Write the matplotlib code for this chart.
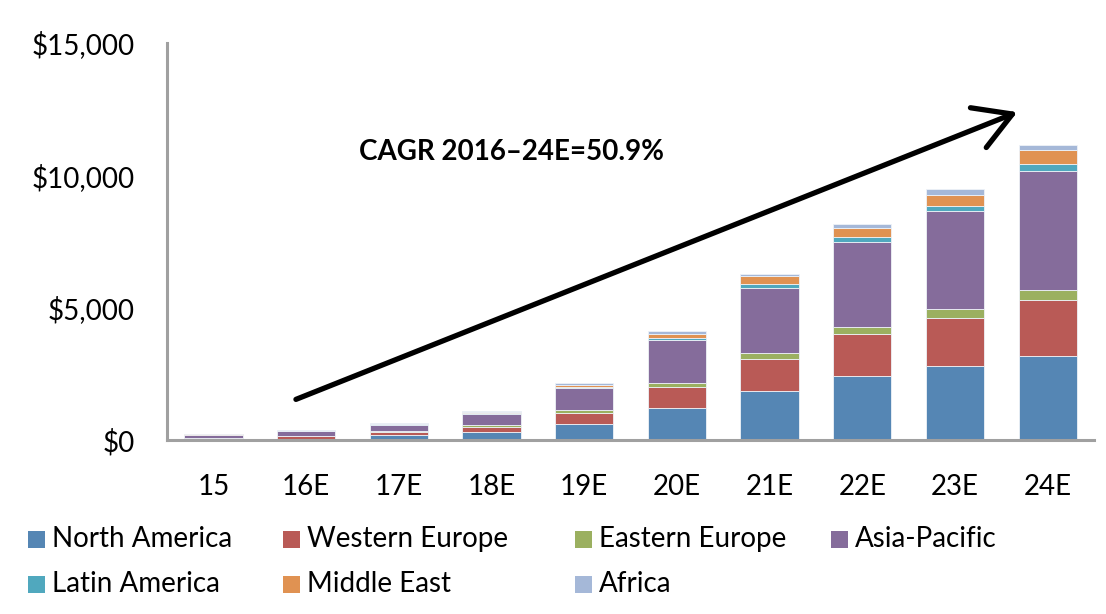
import matplotlib
matplotlib.use("Agg")
import matplotlib.pyplot as plt
from matplotlib.patches import Rectangle, FancyArrowPatch
import numpy as np

categories = ["15", "16E", "17E", "18E", "19E", "20E", "21E", "22E", "23E", "24E"]
series_names = ["North America", "Western Europe", "Eastern Europe", "Asia-Pacific",
                "Latin America", "Middle East", "Africa"]
north_america = [40, 70, 189, 315, 631, 1220, 1863, 2444, 2822, 3185]
western_europe = [60, 100, 126, 188, 400, 782, 1197, 1572, 1799, 2116]
eastern_europe = [10, 15, 25, 64, 102, 151, 238, 253, 328, 392]
asia_pacific = [110, 160, 253, 440, 843, 1625, 2456, 3223, 3703, 4481]
latin_america = [5, 8, 12, 25, 26, 76, 140, 166, 189, 265]
middle_east = [12, 15, 22, 40, 76, 177, 290, 351, 415, 529]
africa = [10, 10, 15, 25, 75, 113, 99, 163, 215, 166]
yticks = [0, 5000, 10000, 15000]
ytick_labels = ["$0", "$5,000", "$10,000", "$15,000"]
cagr_text = "CAGR 2016\u201324E=50.9%"

colors = ["#5586B4", "#B95A56", "#9BB060", "#856C9B", "#50A8BE", "#E09252", "#A5B8D8"]
all_series = [north_america, western_europe, eastern_europe, asia_pacific,
              latin_america, middle_east, africa]

plt.rcParams['font.family'] = ['Lato', 'DejaVu Sans']

fig = plt.figure(figsize=(11.06, 6.14), dpi=100)
ax = fig.add_axes([0.1510, 0.2826, 0.8382, 0.6479])

x = np.arange(len(categories))
bottom = np.zeros(len(categories))
for vals, col, name in zip(all_series, colors, series_names):
    v = np.array(vals, dtype=float)
    ax.bar(x, v, bottom=bottom, width=0.63, color=col, edgecolor="#eef2f7",
           linewidth=0.6, label=name, zorder=2)
    bottom += v

ax.set_xlim(-0.5, 9.5)
ax.set_ylim(0, 15000)
ax.set_yticks(yticks)
ax.set_yticklabels(ytick_labels)
ax.set_xticks(x)
ax.set_xticklabels(categories)
ax.tick_params(axis='both', length=0, labelsize=20, colors='black')
ax.tick_params(axis='y', pad=23)
ax.tick_params(axis='x', pad=24)
for s in ["top", "right"]:
    ax.spines[s].set_visible(False)
for s in ["left", "bottom"]:
    ax.spines[s].set_color("#A0A0A0")
    ax.spines[s].set_linewidth(2.2)

# CAGR arrow
arrow = FancyArrowPatch((0.863, 1511), (8.70, 12420), arrowstyle="->,head_length=1.2,head_width=0.7",
                        mutation_scale=22, lw=3.8, color="black", zorder=3,
                        capstyle='round', joinstyle='round')
ax.add_patch(arrow)
ax.text(3.22, 10870, cagr_text, fontsize=20, fontweight='bold', ha='center', va='center')

# Legend (manual layout)
col_marker_x = [28, 283, 575, 831]
row_y = [539, 584]
sq = 17
W, H = 1106, 614
for i, (name, col) in enumerate(zip(series_names, colors)):
    c = i % 4
    r = i // 4
    mx = col_marker_x[c]
    cy = row_y[r]
    fig.patches.append(Rectangle((mx / W, (H - cy - sq / 2) / H), sq / W, sq / H,
                                 transform=fig.transFigure, facecolor=col,
                                 edgecolor='none', figure=fig))
    fig.text((mx + sq + 7) / W, (H - cy) / H, name, fontsize=20, va='center', ha='left')

fig.savefig("out.png", dpi=100, facecolor="white")
